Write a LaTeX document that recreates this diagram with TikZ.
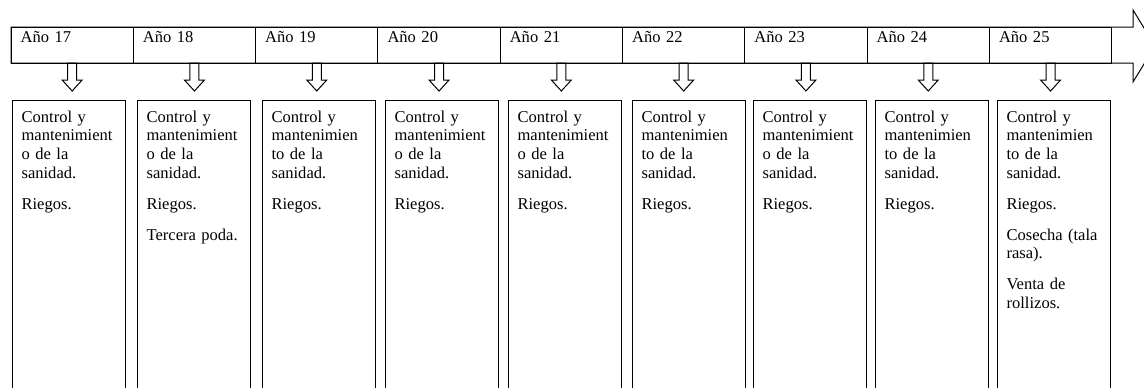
\documentclass[tikz,border=0pt]{standalone}
\usepackage{fontspec}
\setmainfont{Liberation Serif}
\usetikzlibrary{positioning}

% hollow block arrow hanging below a year cell
\newcommand{\yeardown}[1]{%
  \draw[blockarrow] (#1.south) ++(-4.5,0) -- ++(0,17) -- ++(-5.5,0) -- ++(10,11)
    -- ++(10,-11) -- ++(-5.5,0) -- ++(0,-17) -- cycle;}

\begin{document}
\begin{tikzpicture}[
    x=0.75pt, y=-0.75pt,
    font=\fontsize{12.4}{14.1}\selectfont,
    % Node styles
    year/.style={draw, line width=0.75pt, outer sep=0pt, text width=77.325pt, align=left,
        inner xsep=7.2pt, inner ysep=0pt, text height=11.25pt, text depth=15.75pt},
    task/.style={draw, line width=0.75pt, outer sep=0pt, anchor=north west, text width=70.35pt,
        align=left, inner xsep=7.2pt, inner ysep=0pt, text height=16.5pt, text depth=208.5pt},
    band/.style={draw, line width=0.75pt, line join=miter},
    blockarrow/.style={draw, line width=0.75pt, line join=miter},
]
    \useasboundingbox (0,0) rectangle (1144,387);
    \clip (0,0) rectangle (1144,387);

    % Big timeline arrow
    \draw[band] (11,27) -- (1133,27) -- (1133,10) -- (1155,46) -- (1133,82)
        -- (1133,63) -- (11,63) -- cycle;

    % Year cells
    \node[year, anchor=north west] (a17) at (11,27) {Año 17};
    \node[year, right=0pt of a17] (a18) {Año 18};
    \node[year, right=0pt of a18] (a19) {Año 19};
    \node[year, right=0pt of a19] (a20) {Año 20};
    \node[year, right=0pt of a20] (a21) {Año 21};
    \node[year, right=0pt of a21] (a22) {Año 22};
    \node[year, right=0pt of a22] (a23) {Año 23};
    \node[year, right=0pt of a23] (a24) {Año 24};
    \node[year, right=0pt of a24] (a25) {Año 25};

    % Tasks per year
    \node[task] (b17) at (12,100) {Control y\\mantenimient\\o de la\\sanidad.\\[9pt]Riegos.};
    \node[task] (b18) at (137,100) {Control y\\mantenimient\\o de la\\sanidad.\\[9pt]Riegos.\\[9pt]Tercera poda.};
    \node[task] (b19) at (262,100) {Control y\\mantenimien\\to de la\\sanidad.\\[9pt]Riegos.};
    \node[task] (b20) at (385,100) {Control y\\mantenimient\\o de la\\sanidad.\\[9pt]Riegos.};
    \node[task] (b21) at (508,100) {Control y\\mantenimient\\o de la\\sanidad.\\[9pt]Riegos.};
    \node[task] (b22) at (632,100) {Control y\\mantenimien\\to de la\\sanidad.\\[9pt]Riegos.};
    \node[task] (b23) at (753,100) {Control y\\mantenimient\\o de la\\sanidad.\\[9pt]Riegos.};
    \node[task] (b24) at (875,100) {Control y\\mantenimien\\to de la\\sanidad.\\[9pt]Riegos.};
    \node[task] (b25) at (997,100) {Control y\\mantenimien\\to de la\\sanidad.\\[9pt]Riegos.\\[9pt]Cosecha (tala\\rasa).\\[9pt]Venta de\\rollizos.};

    % Down arrows
    \yeardown{a17}
    \yeardown{a18}
    \yeardown{a19}
    \yeardown{a20}
    \yeardown{a21}
    \yeardown{a22}
    \yeardown{a23}
    \yeardown{a24}
    \yeardown{a25}

\end{tikzpicture}
\end{document}
